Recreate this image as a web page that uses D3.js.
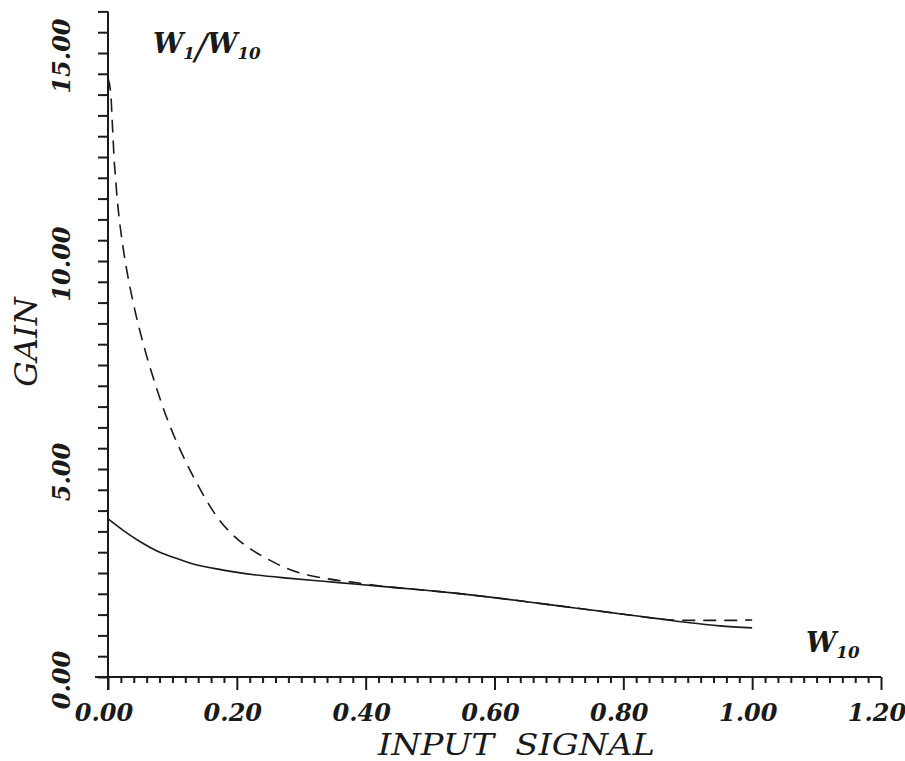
<!DOCTYPE html>
<html>
<head>
<meta charset="utf-8">
<script src="https://cdn.jsdelivr.net/npm/d3@7"></script>
<style>
  body { margin: 0; background: #fff; }
  svg { display: block; }
  .tick-label { font-family: "DejaVu Serif", serif; font-weight: bold; font-style: italic; fill: #1a1a1a; }
  .title { font-family: "DejaVu Serif", serif; font-style: italic; fill: #1a1a1a; }
</style>
</head>
<body>
<div id="chart"></div>
<script>
// solid curve (W10 gain)
const solidX = [0.000, 0.023, 0.050, 0.076, 0.101, 0.127, 0.179, 0.231, 0.283, 0.334, 0.387, 0.438, 0.489, 0.542, 0.593, 0.650, 0.700, 0.750, 0.800, 0.850, 0.900, 0.950, 1.000];
const solidY = [3.80, 3.53, 3.25, 3.03, 2.88, 2.74, 2.57, 2.45, 2.37, 2.30, 2.23, 2.16, 2.09, 2.01, 1.92, 1.81, 1.71, 1.61, 1.51, 1.41, 1.31, 1.23, 1.18];

// dashed curve (W1/W10)
const dashedX = [0.0000, 0.0047, 0.0062, 0.0078, 0.0093, 0.0116, 0.0140, 0.0171, 0.0210, 0.0256, 0.0310, 0.0373, 0.0442, 0.0520, 0.0605, 0.0699, 0.0799, 0.0908, 0.1032, 0.1172, 0.1327, 0.1497, 0.1692, 0.197, 0.224, 0.251, 0.279, 0.310, 0.341, 0.379, 0.438, 0.489, 0.542, 0.593, 0.650, 0.700, 0.750, 0.800, 0.850, 0.880, 0.920, 0.960, 1.000];
const dashedY = [14.40, 13.94, 13.46, 12.98, 12.50, 12.02, 11.54, 11.06, 10.58, 10.10, 9.62, 9.13, 8.65, 8.17, 7.69, 7.21, 6.73, 6.25, 5.77, 5.29, 4.81, 4.33, 3.85, 3.37, 3.05, 2.81, 2.60, 2.45, 2.36, 2.28, 2.16, 2.09, 2.01, 1.92, 1.81, 1.71, 1.61, 1.51, 1.41, 1.37, 1.36, 1.36, 1.37];

const xTicks = [0, 0.2, 0.4, 0.6, 0.8, 1.0, 1.2];
const xTickLabels = ["0.00", "0.20", "0.40", "0.60", "0.80", "1.00", "1.20"];
const yTicks = [0, 5, 10, 15];
const yTickLabels = ["0.00", "5.00", "10.00", "15.00"];

const width = 905, height = 761;
const ink = "#1a1a1a";

const svg = d3.select("#chart").append("svg")
  .attr("width", width)
  .attr("height", height);

const x = d3.scaleLinear().domain([0, 1.2]).range([108, 881]);
const y = d3.scaleLinear().domain([0, 16]).range([677, 677 - 16 * 41.6]);

// x axis: minor ticks every 0.02, long ticks every 0.2
const xAxis = d3.axisBottom(x)
  .tickValues(d3.range(0, 61).map(i => i * 0.02))
  .tickSize(6)
  .tickSizeOuter(0)
  .tickFormat(() => "");
const gx = svg.append("g")
  .attr("transform", `translate(0,${y(0)})`)
  .call(xAxis);
gx.selectAll(".tick line")
  .attr("y2", (d, i) => (i % 10 === 0 ? 13 : 6));
gx.select(".domain").attr("d", `M95,0H${x(1.2)}`);

// y axis: ticks every 0.5
const yAxis = d3.axisLeft(y)
  .tickValues(d3.range(0, 33).map(i => i * 0.5))
  .tickSize(10)
  .tickSizeOuter(0)
  .tickFormat(() => "");
const gy = svg.append("g")
  .attr("transform", `translate(${x(0)},0)`)
  .call(yAxis);
gy.select(".domain").attr("d", `M0,${y(0) + 13}V${y(16)}`);

svg.selectAll(".domain, .tick line")
  .attr("stroke", ink)
  .attr("stroke-width", 2);

// tick labels
svg.append("g").selectAll("text")
  .data(xTicks)
  .join("text")
  .attr("class", "tick-label")
  .attr("x", d => x(d) - 4)
  .attr("y", 721)
  .attr("text-anchor", "middle")
  .attr("font-size", 24)
  .text((d, i) => xTickLabels[i]);

svg.append("g").selectAll("text")
  .data(yTicks)
  .join("text")
  .attr("class", "tick-label")
  .attr("transform", d => `translate(70,${y(d) + 3}) rotate(-90)`)
  .attr("text-anchor", "middle")
  .attr("font-size", 24)
  .text((d, i) => yTickLabels[i]);

// axis titles
svg.append("text")
  .attr("class", "title")
  .attr("x", 378)
  .attr("y", 755)
  .attr("font-size", 29)
  .attr("textLength", 277)
  .attr("lengthAdjust", "spacingAndGlyphs")
  .style("white-space", "pre")
  .text("INPUT  SIGNAL");

svg.append("text")
  .attr("class", "title")
  .attr("transform", `translate(37,${342}) rotate(-90)`)
  .attr("text-anchor", "middle")
  .attr("font-size", 32)
  .text("GAIN");

// curves
const line = d3.line()
  .x(d => x(d[0]))
  .y(d => y(d[1]))
  .curve(d3.curveMonotoneX);

svg.append("path")
  .datum(solidX.map((v, i) => [v, solidY[i]]))
  .attr("fill", "none")
  .attr("stroke", ink)
  .attr("stroke-width", 1.6)
  .attr("d", line);

svg.append("path")
  .datum(dashedX.map((v, i) => [v, dashedY[i]]))
  .attr("fill", "none")
  .attr("stroke", ink)
  .attr("stroke-width", 1.6)
  .attr("stroke-dasharray", "13,8")
  .attr("d", line);

// curve labels
function wLabel(px, py, size, parts) {
  const t = svg.append("text")
    .attr("class", "tick-label")
    .attr("x", px)
    .attr("y", py)
    .attr("font-size", size);
  parts.forEach(p => {
    t.append("tspan")
      .attr("font-size", p.sub ? size * 0.62 : (p.size || size))
      .attr("font-weight", p.weight || "bold")
      .attr("dy", p.dy || 0)
      .text(p.t);
  });
}

wLabel(153, 53, 27, [
  { t: "W" },
  { t: "1", sub: true, dy: 6 },
  { t: "/", size: 36, weight: "normal", dy: 0 },
  { t: "W", dy: -6 },
  { t: "10", sub: true, dy: 6 }
]);

wLabel(806, 652, 27, [
  { t: "W" },
  { t: "10", sub: true, dy: 6 }
]);
</script>
</body>
</html>
